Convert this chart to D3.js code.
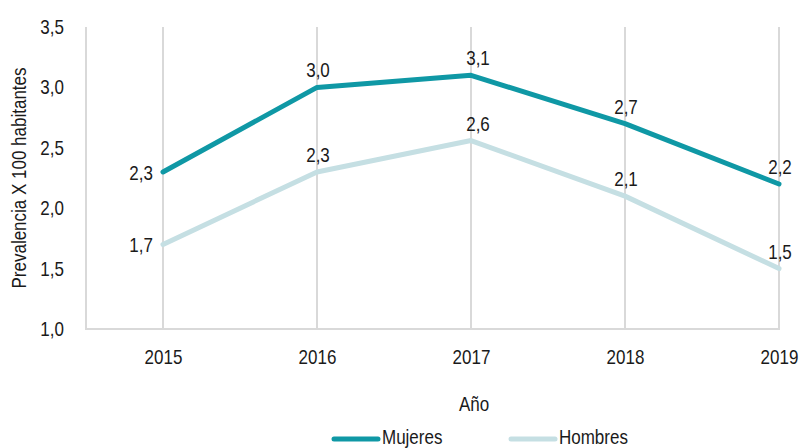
<!DOCTYPE html>
<html>
<head>
<meta charset="utf-8">
<script src="https://cdn.jsdelivr.net/npm/d3@7"></script>
<style>
  body { margin: 0; background: #fff; }
  text { font-family: "Liberation Sans", Arial, sans-serif; fill: #1a1a1a; }
</style>
</head>
<body>
<svg id="chart" width="801" height="448"></svg>
<script>
const years = ["2015", "2016", "2017", "2018", "2019"];
const mujeres = [2.3, 3.0, 3.1, 2.7, 2.2];
const hombres = [1.7, 2.3, 2.56, 2.1, 1.5];
const yTicks = [1.0, 1.5, 2.0, 2.5, 3.0, 3.5];

const series = [
  { name: "Mujeres", values: mujeres, color: "#0f98a5" },
  { name: "Hombres", values: hombres, color: "#c5dfe3" },
];

const svg = d3.select("#chart");
const fmt = (v) => d3.format(".1f")(v).replace(".", ",");
const fs = 20;
const squeeze = 0.85; // condensed look

// move x/y into a transform so the glyphs can be narrowed in place
function narrow(sel, pre = "") {
  sel.each(function () {
    const t = d3.select(this);
    const tx = +t.attr("x") || 0, ty = +t.attr("y") || 0;
    t.attr("x", 0).attr("y", 0)
      .attr("transform", `${pre} translate(${tx},${ty}) scale(${squeeze},1)`);
  });
}

const plotLeft = 86, plotRight = 780, plotTop = 27, plotBottom = 329;

const x = d3.scalePoint().domain(years).range([163, 779]);
const y = d3.scaleLinear().domain([1, 3.5]).range([plotBottom, plotTop]);

// Gridlines (vertical, one per year)
svg.append("g")
  .selectAll("line")
  .data(years)
  .join("line")
  .attr("x1", (d) => x(d))
  .attr("x2", (d) => x(d))
  .attr("y1", plotTop)
  .attr("y2", plotBottom)
  .attr("stroke", "#d9d9d9")
  .attr("stroke-width", 2);

// Axis frame
svg.append("line")
  .attr("x1", plotLeft).attr("x2", plotLeft)
  .attr("y1", plotTop).attr("y2", plotBottom)
  .attr("stroke", "#d9d9d9").attr("stroke-width", 2);
svg.append("line")
  .attr("x1", plotLeft - 1).attr("x2", plotRight)
  .attr("y1", plotBottom).attr("y2", plotBottom)
  .attr("stroke", "#d9d9d9").attr("stroke-width", 2);

// Y axis labels
const yAxis = svg.append("g")
  .attr("transform", `translate(${plotLeft},0)`)
  .call(d3.axisLeft(y).tickValues(yTicks).tickFormat(fmt).tickSize(0).tickPadding(22));
yAxis.select(".domain").remove();
yAxis.selectAll("text").attr("font-size", fs).attr("font-family", null).attr("fill", null).call(narrow);

// X axis labels
const xAxis = svg.append("g")
  .attr("transform", `translate(0,${plotBottom})`)
  .call(d3.axisBottom(x).tickSize(0).tickPadding(21));
xAxis.select(".domain").remove();
xAxis.selectAll("text").attr("font-size", fs).attr("font-family", null).attr("fill", null).call(narrow);

// Lines
const line = d3.line()
  .x((d, i) => x(years[i]))
  .y((d) => y(d));

svg.append("g")
  .selectAll("path")
  .data(series)
  .join("path")
  .attr("d", (d) => line(d.values))
  .attr("fill", "none")
  .attr("stroke", (d) => d.color)
  .attr("stroke-width", 5)
  .attr("stroke-linejoin", "round")
  .attr("stroke-linecap", "round");

// Data labels
series.forEach((s) => {
  svg.append("g")
    .selectAll("text")
    .data(s.values)
    .join("text")
    .attr("font-size", fs)
    .attr("x", (d, i) => (i === 0 ? x(years[i]) - 10 : x(years[i]) + (i === 2 ? 7 : 1)))
    .attr("y", (d, i) => (i === 0 ? y(d) + 8 : y(d) - 10))
    .attr("text-anchor", (d, i) => (i === 0 ? "end" : "middle"))
    .text((d) => fmt(d))
    .call(narrow);
});

// Axis titles
svg.append("text")
  .attr("text-anchor", "middle")
  .attr("font-size", fs)
  .text("Prevalencia X 100 habitantes")
  .call(narrow, `translate(26,${(plotTop + plotBottom) / 2}) rotate(-90)`);

svg.append("text")
  .attr("x", 474)
  .attr("y", 411)
  .attr("text-anchor", "middle")
  .attr("font-size", fs)
  .text("Año")
  .call(narrow);

// Legend
const legend = svg.append("g")
  .selectAll("g")
  .data(series)
  .join("g")
  .attr("transform", (d, i) => `translate(${i === 0 ? 334 : 511},439)`);
legend.append("line")
  .attr("x1", 0).attr("x2", 44)
  .attr("stroke", (d) => d.color)
  .attr("stroke-width", 5)
  .attr("stroke-linecap", "round");
legend.append("text")
  .attr("x", 48)
  .attr("y", 5)
  .attr("font-size", fs)
  .text((d) => d.name)
  .call(narrow);
</script>
</body>
</html>
